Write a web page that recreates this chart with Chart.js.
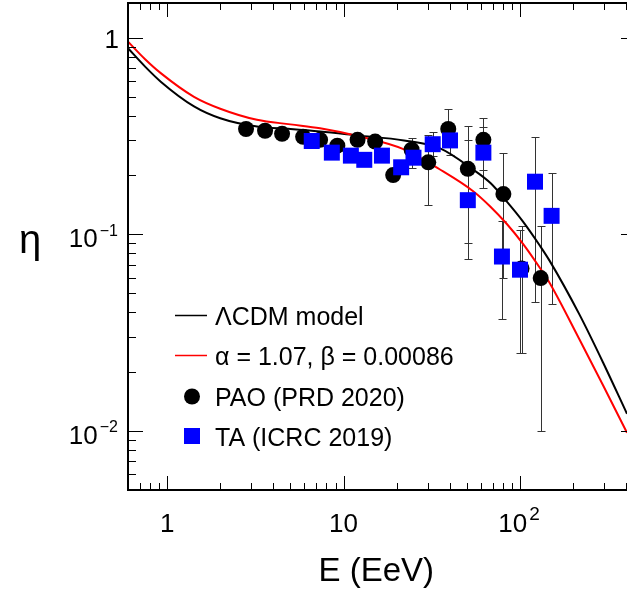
<!DOCTYPE html>
<html>
<head>
<meta charset="utf-8">
<title>eta vs E</title>
<script src="https://cdn.jsdelivr.net/npm/chart.js@4.4.1/dist/chart.umd.min.js"></script>
<style>
  html, body { margin: 0; padding: 0; background: #ffffff; }
  #chart { display: block; }
</style>
</head>
<body>
<canvas id="chart" width="627" height="593"></canvas>
<script>
// model curves
const modelE = [0.6, 0.75, 0.92, 1.42, 2.0, 3.23, 5.0, 7.36, 12, 22, 35, 54.5, 68, 84, 104, 130, 147, 217, 296, 404];
const lcdmEta = [0.883, 0.712, 0.597, 0.447, 0.389, 0.353, 0.343, 0.333, 0.318, 0.300, 0.274, 0.2125, 0.182, 0.147, 0.116, 0.0871, 0.0734, 0.0391, 0.0222, 0.0122];
const fitEta = [0.954, 0.777, 0.660, 0.500, 0.435, 0.382, 0.362, 0.346, 0.316, 0.270, 0.214, 0.165, 0.138, 0.113, 0.0893, 0.0671, 0.0566, 0.0292, 0.0170, 0.00977];

// PAO (PRD 2020)
const paoE = [2.80, 3.59, 4.48, 5.90, 7.36, 9.22, 12.0, 15.1, 19.1, 24.3, 30.2, 39.2, 50.6, 62.0, 80.5, 102, 131];
const paoEta = [0.343, 0.336, 0.324, 0.313, 0.302, 0.282, 0.302, 0.296, 0.200, 0.269, 0.232, 0.343, 0.215, 0.302, 0.160, 0.067, 0.0598];
const paoLow = [0.33, 0.32, 0.31, 0.30, 0.29, 0.27, 0.29, 0.28, 0.19, 0.217, 0.140, 0.290, 0.075, 0.172, 0.060, 0.025, 0.010];
const paoHigh = [0.355, 0.35, 0.335, 0.325, 0.315, 0.295, 0.315, 0.31, 0.21, 0.31, 0.320, 0.433, 0.357, 0.392, 0.260, 0.110, 0.110];

// TA (ICRC 2019)
const taE = [6.6, 8.58, 11.0, 13.1, 16.5, 21.2, 24.9, 32.0, 40.1, 50.6, 62.0, 79, 100, 121.6, 151];
const taEta = [0.298, 0.260, 0.251, 0.239, 0.251, 0.219, 0.245, 0.287, 0.300, 0.149, 0.260, 0.077, 0.066, 0.185, 0.124];
const taLow = [0.285, 0.25, 0.24, 0.23, 0.24, 0.21, 0.23, 0.25, 0.253, 0.090, 0.211, 0.037, 0.025, 0.045, 0.044];
const taHigh = [0.31, 0.27, 0.26, 0.25, 0.26, 0.23, 0.26, 0.330, 0.36, 0.30, 0.349, 0.117, 0.105, 0.312, 0.205];

// axis ticks
const xMajor = [1, 10, 100];
const yMajor = [0.01, 0.1, 1];

const FONT = '"Liberation Sans", Arial, Helvetica, sans-serif';

function pts(xs, ys) {
    return xs.map((x, i) => ({ x: x, y: ys[i] }));
}

function minorTicks(lo, hi) {
    const out = [];
    for (let d = Math.floor(Math.log10(lo)); d <= Math.ceil(Math.log10(hi)); d++) {
        for (let k = 2; k <= 9; k++) {
            const v = k * Math.pow(10, d);
            if (v >= lo && v <= hi) out.push(v);
        }
    }
    return out;
}

// error bars go under the markers
const errorBars = {
    id: 'errorBars',
    beforeDatasetsDraw(chart) {
        const ctx = chart.ctx;
        const xs = chart.scales.x, ys = chart.scales.y;
        ctx.save();
        ctx.strokeStyle = '#333';
        ctx.lineWidth = 1;
        [[paoE, paoLow, paoHigh], [taE, taLow, taHigh]].forEach(set => {
            set[0].forEach((e, i) => {
                const px = Math.round(xs.getPixelForValue(e)) + 0.5;
                const y1 = Math.round(ys.getPixelForValue(set[1][i])) + 0.5;
                const y2 = Math.round(ys.getPixelForValue(set[2][i])) + 0.5;
                ctx.beginPath();
                ctx.moveTo(px, y1); ctx.lineTo(px, y2);
                ctx.moveTo(px - 4, y1); ctx.lineTo(px + 4, y1);
                ctx.moveTo(px - 4, y2); ctx.lineTo(px + 4, y2);
                ctx.stroke();
            });
        });
        ctx.restore();
    }
};

function drawPow(ctx, base, exp, x, y, baseSize, expSize, align) {
    ctx.font = baseSize + 'px ' + FONT;
    const wb = ctx.measureText(base).width;
    ctx.font = expSize + 'px ' + FONT;
    const we = exp ? ctx.measureText(exp).width + 2 : 0;
    let left = x;
    if (align === 'center') left = x - (wb + we) / 2;
    if (align === 'right') left = x - wb - we;
    ctx.textAlign = 'left';
    ctx.font = baseSize + 'px ' + FONT;
    ctx.fillText(base, left, y);
    if (exp) {
        ctx.font = expSize + 'px ' + FONT;
        ctx.fillText(exp, left + wb + 2, y - baseSize * 0.45);
    }
}

// frame, inward ticks, labels, legend
const frame = {
    id: 'frame',
    afterDraw(chart) {
        const ctx = chart.ctx;
        const a = chart.chartArea;
        const xs = chart.scales.x, ys = chart.scales.y;
        ctx.save();
        ctx.fillStyle = '#000';
        ctx.strokeStyle = '#000';

        // ticks
        ctx.lineWidth = 1;
        ctx.beginPath();
        xMajor.forEach(v => {
            const px = Math.round(xs.getPixelForValue(v)) + 0.5;
            ctx.moveTo(px, a.bottom); ctx.lineTo(px, a.bottom - 14);
            ctx.moveTo(px, a.top); ctx.lineTo(px, a.top + 14);
        });
        minorTicks(xs.min, xs.max).forEach(v => {
            const px = Math.round(xs.getPixelForValue(v)) + 0.5;
            ctx.moveTo(px, a.bottom); ctx.lineTo(px, a.bottom - 7);
            ctx.moveTo(px, a.top); ctx.lineTo(px, a.top + 7);
        });
        yMajor.forEach(v => {
            const py = Math.round(ys.getPixelForValue(v)) + 0.5;
            ctx.moveTo(a.left, py); ctx.lineTo(a.left + 15, py);
            // right axis sits just off the canvas, only the tips show
            ctx.moveTo(a.right - 6, py); ctx.lineTo(a.right, py);
        });
        minorTicks(ys.min, ys.max).forEach(v => {
            const py = Math.round(ys.getPixelForValue(v)) + 0.5;
            ctx.moveTo(a.left, py); ctx.lineTo(a.left + 8, py);
        });
        ctx.stroke();

        // frame
        ctx.lineWidth = 2;
        ctx.beginPath();
        ctx.moveTo(a.right, a.top); ctx.lineTo(a.left, a.top);
        ctx.lineTo(a.left, a.bottom); ctx.lineTo(a.right, a.bottom);
        ctx.stroke();

        // tick labels
        ctx.textBaseline = 'alphabetic';
        drawPow(ctx, '1', '', xs.getPixelForValue(1), 532, 26, 19, 'center');
        drawPow(ctx, '10', '', xs.getPixelForValue(10), 532, 26, 19, 'center');
        drawPow(ctx, '10', '2', xs.getPixelForValue(100) - 1, 532, 26, 19, 'center');
        drawPow(ctx, '1', '', 119, ys.getPixelForValue(1) + 10, 26, 16, 'right');
        drawPow(ctx, '10', '\u22121', 118, ys.getPixelForValue(0.1) + 13, 26, 16, 'right');
        drawPow(ctx, '10', '\u22122', 118, ys.getPixelForValue(0.01) + 13, 26, 16, 'right');

        // axis titles
        ctx.font = '33px ' + FONT;
        ctx.textAlign = 'right';
        ctx.fillText('E (EeV)', 434, 581);
        ctx.font = '40px ' + FONT;
        ctx.textAlign = 'center';
        ctx.fillText('\u03b7', 30, 253);

        // legend
        const rows = [315.5, 355.5, 396.5, 436];
        const ds = chart.data.datasets;
        ctx.font = '25px ' + FONT;
        ctx.textAlign = 'left';
        ds.forEach((d, i) => {
            const cy = rows[i];
            if (d.showLine) {
                ctx.strokeStyle = d.borderColor;
                ctx.lineWidth = 1.5;
                ctx.beginPath();
                ctx.moveTo(175, cy); ctx.lineTo(207, cy);
                ctx.stroke();
            } else if (d.pointStyle === 'rect') {
                ctx.fillStyle = d.backgroundColor;
                ctx.fillRect(184, cy - 8, 16, 16);
            } else {
                ctx.fillStyle = d.backgroundColor;
                ctx.beginPath();
                ctx.arc(192, cy, 8, 0, Math.PI * 2);
                ctx.fill();
            }
            ctx.fillStyle = '#000';
            ctx.fillText(d.label, 215, cy + 9.5);
        });
        ctx.restore();
    }
};

const ctx = document.getElementById('chart').getContext('2d');
const myChart = new Chart(ctx, {
    type: 'scatter',
    data: {
        datasets: [{
            label: '\u039bCDM model',
            data: pts(modelE, lcdmEta),
            showLine: true,
            borderColor: '#000000',
            borderWidth: 2,
            pointRadius: 0,
            cubicInterpolationMode: 'monotone',
            order: 3
        }, {
            label: '\u03b1 = 1.07, \u03b2 = 0.00086',
            data: pts(modelE, fitEta),
            showLine: true,
            borderColor: '#ff0000',
            borderWidth: 2,
            pointRadius: 0,
            cubicInterpolationMode: 'monotone',
            order: 2
        }, {
            label: 'PAO (PRD 2020)',
            data: pts(paoE, paoEta),
            pointStyle: 'circle',
            pointRadius: 8,
            backgroundColor: '#000000',
            borderColor: '#000000',
            borderWidth: 0,
            order: 1
        }, {
            label: 'TA (ICRC 2019)',
            data: pts(taE, taEta),
            pointStyle: 'rect',
            pointRadius: 11.3,
            backgroundColor: '#0000ff',
            borderColor: '#0000ff',
            borderWidth: 0,
            order: 0
        }]
    },
    options: {
        responsive: false,
        animation: false,
        devicePixelRatio: 1,
        layout: { autoPadding: false, padding: { left: 128, top: 3, right: 0, bottom: 103 } },
        plugins: {
            legend: { display: false },
            tooltip: { enabled: false }
        },
        scales: {
            x: { type: 'logarithmic', min: 0.6, max: 404, display: false },
            y: { type: 'logarithmic', min: 0.005, max: 1.5, display: false }
        }
    },
    plugins: [errorBars, frame]
});
</script>
</body>
</html>
